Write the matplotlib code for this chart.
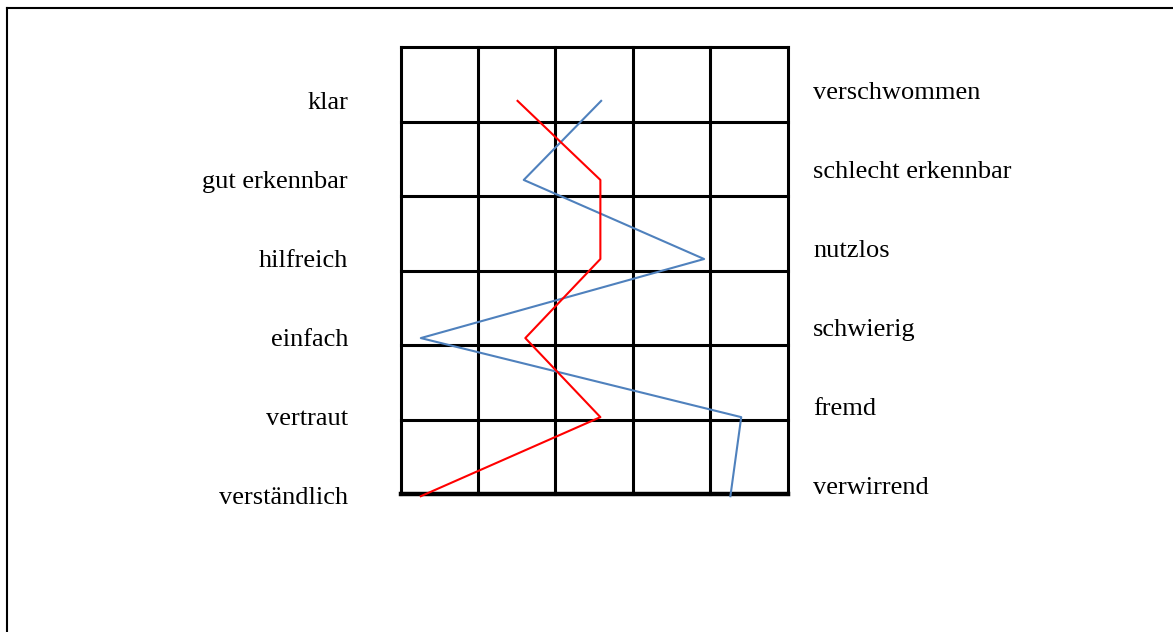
import matplotlib.pyplot as plt
from matplotlib.lines import Line2D

# semantic differential: left / right adjectives and two profiles
left_labels = ["klar", "gut erkennbar", "hilfreich", "einfach", "vertraut", "verständlich"]
right_labels = ["verschwommen", "schlecht erkennbar", "nutzlos", "schwierig", "fremd", "verwirrend"]
red_scores = [1.51, 2.58, 2.58, 1.61, 2.58, 0.26]
blue_scores = [2.59, 1.59, 3.92, 0.26, 4.40, 4.26]

n_cols = 5
n_rows = 6

plt.rcParams["font.family"] = ["Liberation Serif", "DejaVu Serif"]

fig = plt.figure(figsize=(11.73, 6.32), dpi=100)
ax = fig.add_axes([0.3416, 0.2184, 0.3299, 0.7068])
ax.set_xlim(0, n_cols)
ax.set_ylim(n_rows, 0)
ax.axis("off")

# grid of boxes
for i in range(n_cols + 1):
    ax.axvline(i, color="black", lw=2.2, clip_on=False)
for j in range(n_rows + 1):
    ax.axhline(j, color="black", lw=3.2 if j == n_rows else 2.2, clip_on=False)

# rows of the items (evenly spaced inside the grid)
item_y = [0.72 + 1.062 * i for i in range(len(left_labels))]

ax.plot(red_scores, item_y, color="#ff0000", lw=1.5, clip_on=False, zorder=4)
ax.plot(blue_scores, item_y, color="#4f81bd", lw=1.5, clip_on=False, zorder=3)

px = 1 / 74.45  # one pixel in row units
for y, lab in zip(item_y, left_labels):
    ax.text(-0.68, y + 8 * px, lab, ha="right", va="baseline", fontsize=19)
for y, lab in zip(item_y, right_labels):
    ax.text(5.33, y - 2 * px, lab, ha="left", va="baseline", fontsize=19)

# outer frame (only left and top edges visible)
x0 = 7 / 1173
y0 = 1 - 8 / 632
fig.add_artist(Line2D([x0, x0], [0, y0], color="black", lw=1.5))
fig.add_artist(Line2D([x0, 1], [y0, y0], color="black", lw=1.5))

fig.savefig("out.png", dpi=100)
